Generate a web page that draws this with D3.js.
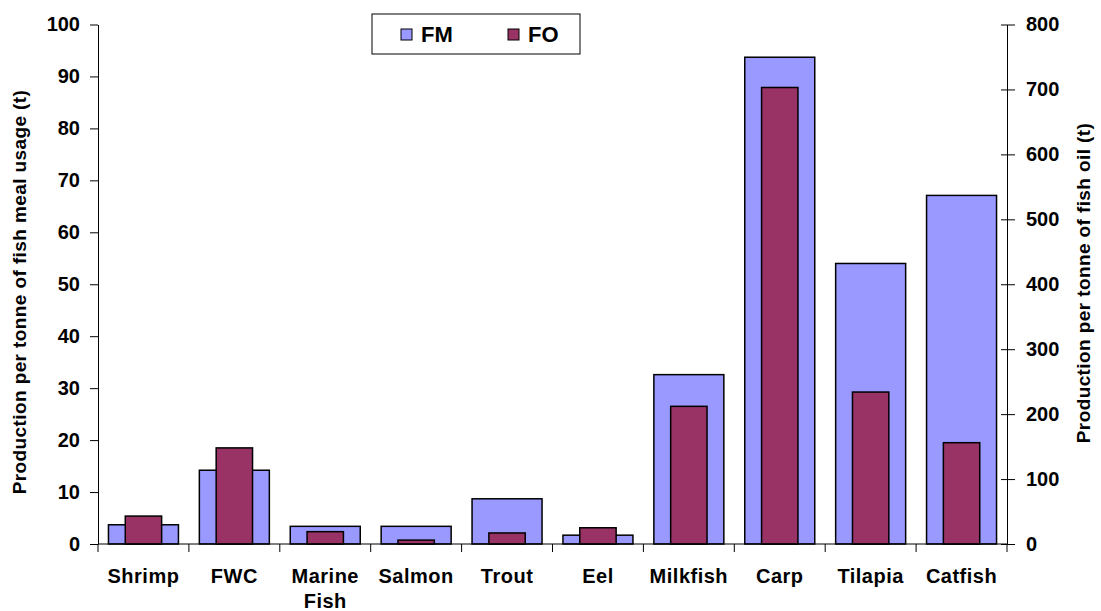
<!DOCTYPE html>
<meta charset="utf-8">
<style>
  body { margin: 0; background: #fff; }
  text { font-family: "Liberation Sans", Arial, sans-serif; font-weight: bold; fill: #000; }
  .bar-fm { fill: #9999ff; stroke: #000; stroke-width: 1.5; }
  .bar-fo { fill: #993366; stroke: #000; stroke-width: 1.5; }
  .axis path, .axis line { stroke: #000; stroke-width: 1; }
</style>
<body>
<svg id="chart" width="1101" height="611"></svg>
<script src="https://d3js.org/d3.v7.min.js"></script>
<script>
var categories = ["Shrimp", "FWC", "Marine Fish", "Salmon", "Trout", "Eel", "Milkfish", "Carp", "Tilapia", "Catfish"];
var fmValues = [3.7, 14.2, 3.4, 3.4, 8.7, 1.7, 32.6, 93.7, 54.0, 67.1];
var foValues = [43, 148, 19, 6, 17, 25, 212, 703, 234, 156];
var leftTicks = [0, 10, 20, 30, 40, 50, 60, 70, 80, 90, 100];
var rightTicks = [0, 100, 200, 300, 400, 500, 600, 700, 800];

var svg = d3.select("#chart"),
    margin = {top: 24.5, right: 94, bottom: 67, left: 98},
    width = +svg.attr("width") - margin.left - margin.right,
    height = +svg.attr("height") - margin.top - margin.bottom;

var g = svg.append("g").attr("transform", "translate(" + margin.left + "," + margin.top + ")");

var x = d3.scaleBand().domain(categories).range([0, width]);
var yL = d3.scaleLinear().domain([0, 100]).range([height, 0]);
var yR = d3.scaleLinear().domain([0, 800]).range([height, 0]);

var data = categories.map(function (c, i) { return {cat: c, fm: fmValues[i], fo: foValues[i]}; });

var fmW = x.bandwidth() * 0.77, foW = x.bandwidth() * 0.4;

g.selectAll(".bar-fm").data(data).enter().append("rect")
  .attr("class", "bar-fm")
  .attr("x", function (d) { return x(d.cat) + (x.bandwidth() - fmW) / 2; })
  .attr("y", function (d) { return yL(d.fm); })
  .attr("width", fmW)
  .attr("height", function (d) { return height - yL(d.fm); });

g.selectAll(".bar-fo").data(data).enter().append("rect")
  .attr("class", "bar-fo")
  .attr("x", function (d) { return x(d.cat) + (x.bandwidth() - foW) / 2; })
  .attr("y", function (d) { return yR(d.fo); })
  .attr("width", foW)
  .attr("height", function (d) { return height - yR(d.fo); });

// left axis
var ax = g.append("g").attr("class", "axis")
  .call(d3.axisLeft(yL).tickValues(leftTicks).tickSize(8).tickPadding(10).tickSizeOuter(0));
ax.selectAll("text").style("font-size", "20px");

// right axis, ticks cross the line
var ar = g.append("g").attr("class", "axis")
  .attr("transform", "translate(" + width + ",0)")
  .call(d3.axisRight(yR).tickValues(rightTicks).tickSize(8).tickPadding(11).tickSizeOuter(0));
ar.selectAll(".tick line").attr("x1", -6);
ar.selectAll("text").style("font-size", "20px");

// bottom axis, ticks at category boundaries
var bx = g.append("g").attr("class", "axis")
  .attr("transform", "translate(0," + height + ")");
bx.append("line").attr("x1", 0).attr("x2", width).attr("stroke", "#000");
bx.selectAll(".bt").data(categories.concat([null])).enter().append("line")
  .attr("x1", function (d, i) { return i * x.step(); })
  .attr("x2", function (d, i) { return i * x.step(); })
  .attr("y1", 0).attr("y2", 8).attr("stroke", "#000");
bx.selectAll(".lbl").data(categories).enter().append("text")
  .attr("text-anchor", "middle")
  .style("font-size", "20px")
  .style("letter-spacing", "0.5px")
  .attr("x", function (d) { return x(d) + x.bandwidth() / 2; })
  .attr("y", 39)
  .each(function (d) {
    var parts = d.split(" ");
    var t = d3.select(this);
    parts.forEach(function (p, i) {
      t.append("tspan").attr("x", x(d) + x.bandwidth() / 2).attr("dy", i ? 25 : 0).text(p);
    });
  });

// axis titles
svg.append("text")
  .attr("transform", "translate(26,292) rotate(-90)")
  .attr("text-anchor", "middle")
  .style("font-size", "19px")
  .style("letter-spacing", "0.4px")
  .text("Production per tonne of fish meal usage (t)");
svg.append("text")
  .attr("transform", "translate(1090,283) rotate(-90)")
  .attr("text-anchor", "middle")
  .style("font-size", "19px")
  .style("letter-spacing", "0.4px")
  .text("Production per tonne of fish oil (t)");

// legend
var lg = svg.append("g").attr("transform", "translate(372,14)");
lg.append("rect").attr("width", 208).attr("height", 40).attr("fill", "#fff").attr("stroke", "#000");
[["FM", "#9999ff", 29], ["FO", "#993366", 136]].forEach(function (s) {
  lg.append("rect").attr("x", s[2]).attr("y", 15).attr("width", 11).attr("height", 11)
    .attr("fill", s[1]).attr("stroke", "#000");
  lg.append("text").attr("x", s[2] + 20).attr("y", 28).style("font-size", "22px").text(s[0]);
});
</script>
</body>
